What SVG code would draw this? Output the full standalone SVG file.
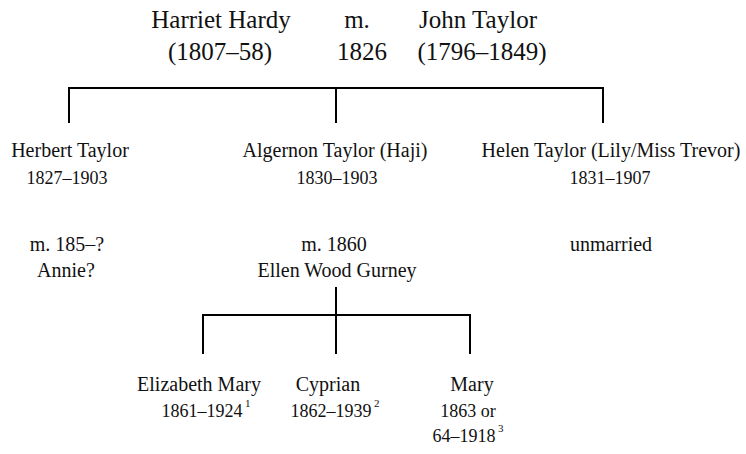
<svg xmlns="http://www.w3.org/2000/svg" width="746" height="454" viewBox="0 0 746 454">
<style>
text{font-family:"Liberation Serif","DejaVu Serif",serif;fill:#111;text-anchor:middle}
.t1{font-size:25px}
.n{font-size:20px}
.d{font-size:18px}
.s{font-size:11px;text-anchor:start}
.ln{fill:none;stroke:#000;stroke-width:2}
</style>
<rect width="746" height="454" fill="#fff"/>
<g id="connectors">
<path class="ln" d="M69,123V88H603V123"/>
<path class="ln" d="M336,88V123"/>
<path class="ln" d="M203,354V315H470V354"/>
<path class="ln" d="M336,287V354"/>
</g>
<g id="harriet">
<text class="t1" x="221" y="28">Harriet Hardy</text>
<text class="t1" x="220" y="60">(1807–58)</text>
</g>
<g id="marriage1">
<text class="t1" x="357" y="28">m.</text>
<text class="t1" x="362" y="60">1826</text>
</g>
<g id="john">
<text class="t1" x="478" y="28">John Taylor</text>
<text class="t1" x="482" y="60">(1796–1849)</text>
</g>
<g id="herbert">
<text class="n" x="70" y="157">Herbert Taylor</text>
<text class="d" x="67" y="184">1827–1903</text>
<text class="n" x="67" y="251">m. 185–?</text>
<text class="n" x="66" y="277">Annie?</text>
</g>
<g id="algernon">
<text class="n" x="335" y="157">Algernon Taylor (Haji)</text>
<text class="d" x="337" y="184">1830–1903</text>
<text class="n" x="334" y="251">m. 1860</text>
<text class="n" x="337" y="277">Ellen Wood Gurney</text>
</g>
<g id="helen">
<text class="n" x="611" y="157">Helen Taylor (Lily/Miss Trevor)</text>
<text class="d" x="610" y="184">1831–1907</text>
<text class="n" x="611" y="251">unmarried</text>
</g>
<g id="elizabeth">
<text class="n" x="199" y="391">Elizabeth Mary</text>
<text class="d" x="202" y="417">1861–1924</text>
<text class="s" x="245" y="407">1</text>
</g>
<g id="cyprian">
<text class="n" x="328" y="391">Cyprian</text>
<text class="d" x="331" y="417">1862–1939</text>
<text class="s" x="374" y="407">2</text>
</g>
<g id="mary">
<text class="n" x="472" y="391">Mary</text>
<text class="d" x="468" y="417">1863 or</text>
<text class="d" x="464" y="442">64–1918</text>
<text class="s" x="498" y="432">3</text>
</g>
</svg>
